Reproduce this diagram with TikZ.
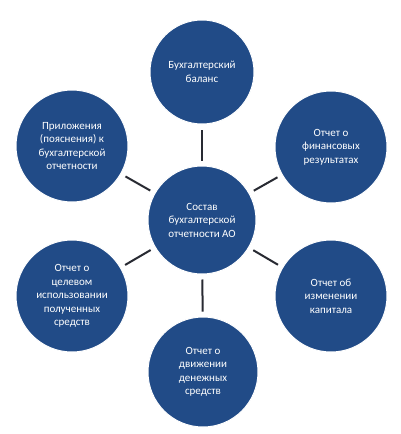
\documentclass[tikz,border=0pt]{standalone}
\usepackage{fontspec}
\setmainfont{Carlito}
\definecolor{circ}{RGB}{33,75,135}
\definecolor{conn}{RGB}{40,42,50}
\begin{document}
\begin{tikzpicture}[x=1pt,y=-1pt,
  bubble/.style={circle, fill=circ, draw=white, line width=1pt, minimum size=#1, inner sep=0pt, text=white, align=center, font=\fontsize{11}{13.5}\selectfont},
  link/.style={draw=conn, line width=2pt, shorten <=5pt, shorten >=5pt}]
\useasboundingbox (0,0) rectangle (400,434);
\fill[white] (0,0) rectangle (400,434);
\node[bubble=108pt] (c) at (202,220) {Состав\\бухгалтерской\\отчетности АО};
\node[bubble=104pt] (t) at (202,72) {Бухгалтерский\\баланс};
\node[bubble=112pt] (ur) at (331,147) {Отчет о\\финансовых\\результатах};
\node[bubble=112pt] (lr) at (331,296) {Отчет об\\изменении\\капитала};
\node[bubble=110pt] (b) at (203,372) {Отчет о\\движении\\денежных\\средств};
\node[bubble=112pt] (ll) at (72,296) {Отчет о\\целевом\\использовании\\полученных\\средств};
\node[bubble=112pt] (ul) at (72,146) {Приложения\\(пояснения) к\\бухгалтерской\\отчетности};
\foreach \n in {t,ur,lr,b,ll,ul}{\draw[link] (c) -- (\n);}
\end{tikzpicture}
\end{document}
